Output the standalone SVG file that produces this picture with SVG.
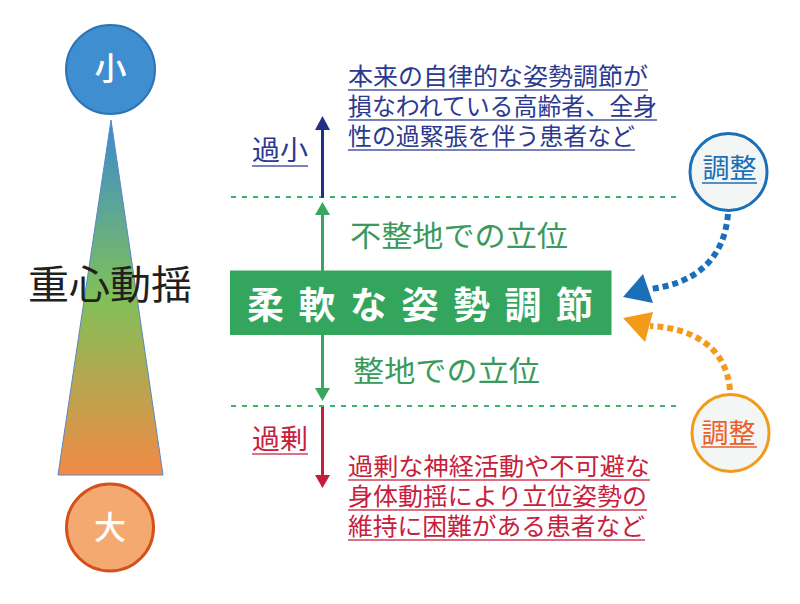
<svg xmlns="http://www.w3.org/2000/svg" width="800" height="604" viewBox="0 0 800 604">
<defs>
<linearGradient id="tri" x1="0" y1="120" x2="0" y2="475" gradientUnits="userSpaceOnUse">
<stop offset="0" stop-color="#3a8bd2"/>
<stop offset="0.5" stop-color="#80c058"/>
<stop offset="1" stop-color="#f28a45"/>
</linearGradient>
<style>
.jp{font-family:"Noto Sans CJK JP","Noto Sans CJK SC",sans-serif;}
.navy{fill:#2b3a8f;}
.red{fill:#c8203c;}
.grn{fill:#3a9a5c;}
.ulb{stroke:#4a58a5;stroke-width:1.6;}
.ulr{stroke:#d0405c;stroke-width:1.6;}
.dash{stroke:#3cb36b;stroke-width:2;stroke-dasharray:5 6;fill:none;}
</style>
</defs>
<rect width="800" height="604" fill="#fff"/>

<g id="scale">
<polygon points="111,120 58,475 163,475" fill="url(#tri)" stroke="#5a86c4" stroke-width="1"/>
<text class="jp" x="28" y="299" font-size="40" fill="#231f20" textLength="164" lengthAdjust="spacingAndGlyphs">重心動揺</text>
</g>
<g id="small">
<circle cx="110.5" cy="69.5" r="44.5" fill="#3f8fd0" stroke="#2f74b6" stroke-width="2"/>
<text class="jp" x="110.5" y="80" font-size="32" fill="#fff" text-anchor="middle" font-weight="500">小</text>
</g>
<g id="large">
<circle cx="110" cy="527.5" r="43.5" fill="#f4a970" stroke="#d5501a" stroke-width="3"/>
<text class="jp" x="110" y="539" font-size="32" fill="#fff" text-anchor="middle" font-weight="500">大</text>
</g>

<g id="guides">
<line class="dash" x1="231" y1="197" x2="676" y2="197"/>
<line class="dash" x1="231" y1="406" x2="676" y2="406"/>
</g>

<g id="connectors">
<line x1="322.5" y1="198" x2="322.5" y2="128" stroke="#1f3088" stroke-width="3"/>
<polygon points="322.5,116 315,130 330,130" fill="#1f3088"/>
<line x1="322.5" y1="407" x2="322.5" y2="477" stroke="#c41e3a" stroke-width="3"/>
<polygon points="322.5,488 315,475 330,475" fill="#c41e3a"/>
<line x1="322.5" y1="212" x2="322.5" y2="271" stroke="#3aa55e" stroke-width="3"/>
<polygon points="322.5,202 315,215 330,215" fill="#3aa55e"/>
<line x1="322.5" y1="335" x2="322.5" y2="390" stroke="#3aa55e" stroke-width="3"/>
<polygon points="322.5,401 315,388 330,388" fill="#3aa55e"/>
<path d="M728,214 C724,262 692,284 650,289" fill="none" stroke="#1a6fb8" stroke-width="6" stroke-dasharray="6 4"/>
<polygon points="623,297 643,274 653,303" fill="#1a6fb8"/>
<path d="M730,390 C726,346 692,328 650,326" fill="none" stroke="#f39a18" stroke-width="6" stroke-dasharray="6 4"/>
<polygon points="623,318 653,312 645,342" fill="#f39a18"/>
</g>

<g id="main">
<rect x="230" y="270.5" width="381.5" height="64.5" fill="#34a55c"/>
<text class="jp" x="247" y="319" font-size="37" fill="#fff" font-weight="700" textLength="346" lengthAdjust="spacing">柔軟な姿勢調節</text>
</g>

<g id="labels">
<text class="jp grn" x="350" y="247" font-size="29" textLength="218" lengthAdjust="spacingAndGlyphs">不整地での立位</text>
<text class="jp grn" x="353" y="382" font-size="29" textLength="187" lengthAdjust="spacingAndGlyphs">整地での立位</text>
<text class="jp navy" x="252" y="160" font-size="27" textLength="56" lengthAdjust="spacingAndGlyphs">過小</text>
<line class="ulb" x1="252" y1="166" x2="308" y2="166"/>
<text class="jp red" x="252" y="449" font-size="27" textLength="56" lengthAdjust="spacingAndGlyphs">過剰</text>
<line class="ulr" x1="252" y1="454" x2="308" y2="454"/>
</g>

<g id="low-note">
<text class="jp navy" font-size="24"><tspan x="348" y="85" textLength="300" lengthAdjust="spacingAndGlyphs">本来の自律的な姿勢調節が</tspan><tspan x="348" y="115" textLength="309" lengthAdjust="spacingAndGlyphs">損なわれている高齢者、全身</tspan><tspan x="348" y="145" textLength="287" lengthAdjust="spacingAndGlyphs">性の過緊張を伴う患者など</tspan></text>
<line class="ulb" x1="348" y1="90" x2="648" y2="90"/>
<line class="ulb" x1="348" y1="120" x2="657" y2="120"/>
<line class="ulb" x1="348" y1="150" x2="635" y2="150"/>
</g>

<g id="high-note">
<text class="jp red" font-size="24"><tspan x="348" y="475" textLength="302" lengthAdjust="spacingAndGlyphs">過剰な神経活動や不可避な</tspan><tspan x="348" y="505" textLength="299" lengthAdjust="spacingAndGlyphs">身体動揺により立位姿勢の</tspan><tspan x="348" y="535" textLength="297" lengthAdjust="spacingAndGlyphs">維持に困難がある患者など</tspan></text>
<line class="ulr" x1="348" y1="480" x2="650" y2="480"/>
<line class="ulr" x1="348" y1="510" x2="647" y2="510"/>
<line class="ulr" x1="348" y1="540" x2="645" y2="540"/>
</g>

<g id="adjust-top">
<circle cx="728.5" cy="172" r="38.5" fill="#f4f6f6" stroke="#1a6fb8" stroke-width="3"/>
<text class="jp" x="729.5" y="178" font-size="27" fill="#1a6fb8" text-anchor="middle">調整</text>
<line x1="702" y1="183" x2="757" y2="183" stroke="#1a6fb8" stroke-width="1.6"/>
</g>
<g id="adjust-bottom">
<circle cx="730.5" cy="433" r="38.5" fill="#f4f6f6" stroke="#f39a18" stroke-width="3"/>
<text class="jp" x="728.5" y="443" font-size="27" fill="#e8602a" text-anchor="middle">調整</text>
<line x1="701" y1="447" x2="757" y2="447" stroke="#e8602a" stroke-width="1.6"/>
</g>
</svg>
